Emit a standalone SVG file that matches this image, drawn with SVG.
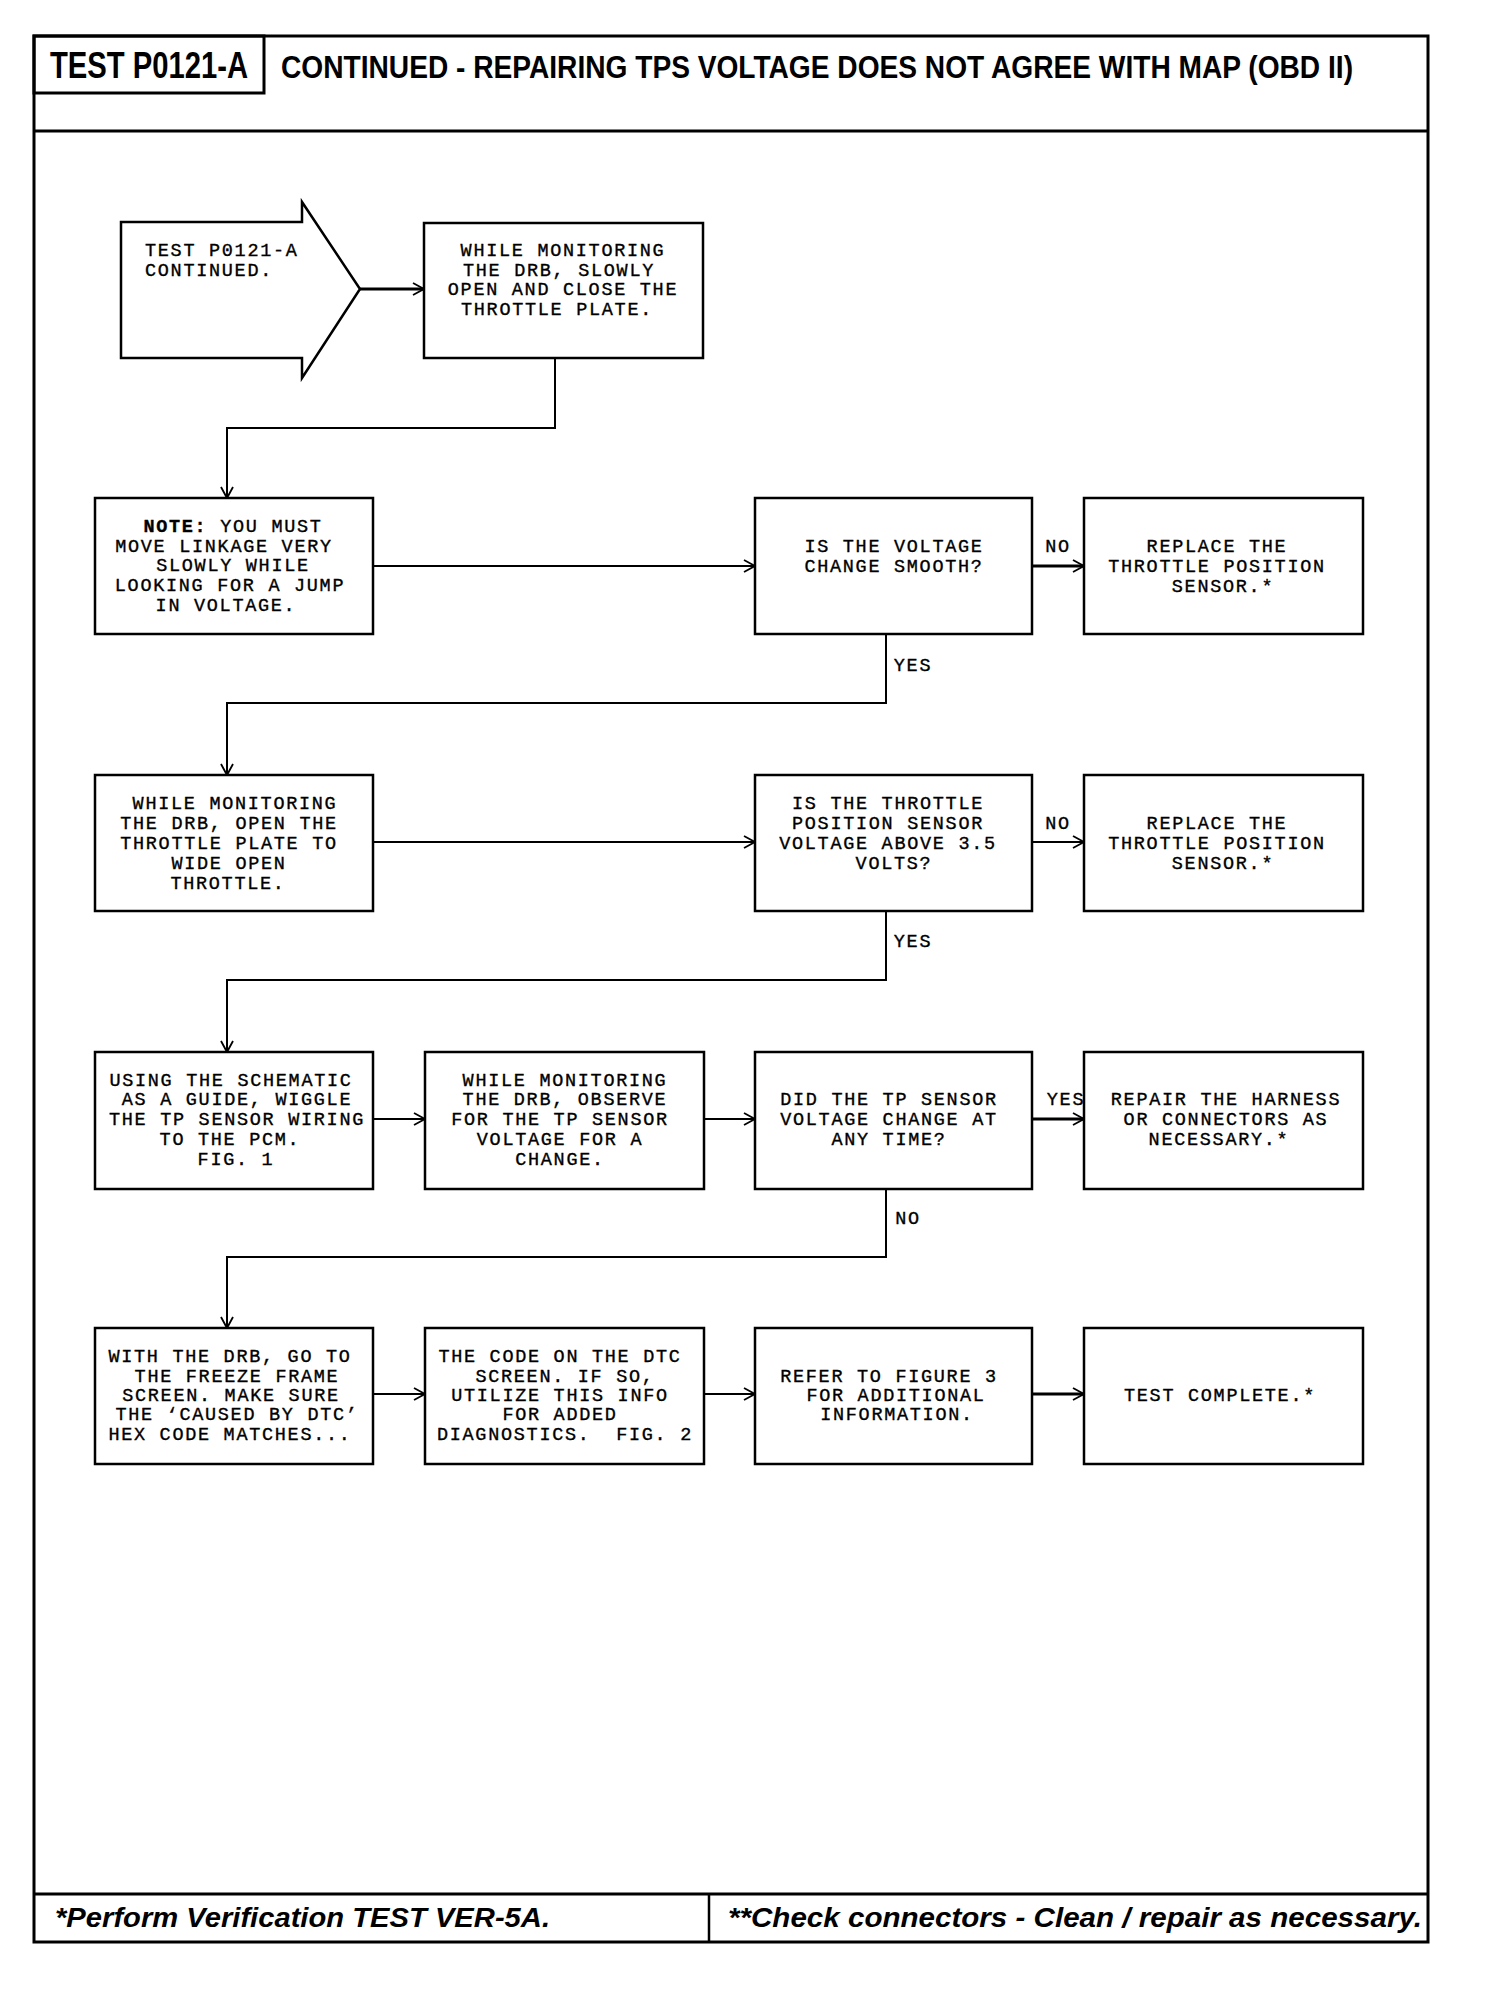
<svg xmlns="http://www.w3.org/2000/svg" width="1504" height="1996" viewBox="0 0 1504 1996">
<defs>
<style>
.frame{fill:none;stroke:#000;stroke-width:3}
.box{fill:#fff;stroke:#000;stroke-width:2.5}
.t{font-family:"Liberation Mono","Courier New",monospace;font-size:18.5px;letter-spacing:1.7px;fill:#000;stroke:#000;stroke-width:0.35;text-anchor:middle}
.ts{font-family:"Liberation Mono","Courier New",monospace;font-size:18.5px;letter-spacing:1.7px;fill:#000;stroke:#000;stroke-width:0.35}
.conn{fill:none;stroke:#000;stroke-width:2}
.thick{stroke-width:3.2}
.hdr{font-family:"Liberation Sans",Arial,sans-serif;font-weight:bold;fill:#000}
.ftr{font-family:"Liberation Sans",Arial,sans-serif;font-weight:bold;font-style:italic;fill:#000;font-size:27px}
</style>
<marker id="arr" markerUnits="userSpaceOnUse" markerWidth="14" markerHeight="16" refX="12" refY="7" orient="auto">
<path d="M1,1 L12,7 L1,13" fill="none" stroke="#000" stroke-width="1.8"/>
</marker>
</defs>
<rect width="1504" height="1996" fill="#fff"/>

<g id="frame">
<rect class="frame" x="34" y="36" width="1394" height="1906"/>
<line class="frame" x1="34" y1="131" x2="1428" y2="131"/>
<rect class="frame" x="34" y="36" width="230" height="57"/>
<line class="frame" x1="34" y1="1894" x2="1428" y2="1894"/>
<line x1="709" y1="1894" x2="709" y2="1942" stroke="#000" stroke-width="2.5"/>
<text class="hdr" x="50" y="78" font-size="36" textLength="198" lengthAdjust="spacingAndGlyphs">TEST P0121-A</text>
<text class="hdr" x="281" y="78" font-size="31" textLength="1072" lengthAdjust="spacingAndGlyphs">CONTINUED - REPAIRING TPS VOLTAGE DOES NOT AGREE WITH MAP (OBD II)</text>
<text class="ftr" x="55" y="1927" textLength="495" lengthAdjust="spacingAndGlyphs">*Perform Verification TEST VER-5A.</text>
<text class="ftr" x="728" y="1927" textLength="694" lengthAdjust="spacingAndGlyphs">**Check connectors - Clean / repair as necessary.</text>
</g>

<g id="connectors">
<line class="conn thick" x1="360" y1="289" x2="424" y2="289" marker-end="url(#arr)"/>
<path class="conn" d="M555,358 V428 H227 V498" marker-end="url(#arr)"/>
<path class="conn" d="M373,566 H755" marker-end="url(#arr)"/>
<path class="conn thick" d="M1032,566 H1084" marker-end="url(#arr)"/>
<path class="conn" d="M886,634 V703 H227 V775" marker-end="url(#arr)"/>
<path class="conn" d="M373,842 H755" marker-end="url(#arr)"/>
<path class="conn" d="M1032,842 H1084" marker-end="url(#arr)"/>
<path class="conn" d="M886,911 V980 H227 V1052" marker-end="url(#arr)"/>
<path class="conn" d="M373,1119 H425" marker-end="url(#arr)"/>
<path class="conn" d="M704,1119 H755" marker-end="url(#arr)"/>
<path class="conn thick" d="M1032,1119 H1084" marker-end="url(#arr)"/>
<path class="conn" d="M886,1189 V1257 H227 V1328" marker-end="url(#arr)"/>
<path class="conn" d="M373,1394 H425" marker-end="url(#arr)"/>
<path class="conn" d="M704,1394 H755" marker-end="url(#arr)"/>
<path class="conn thick" d="M1032,1394 H1084" marker-end="url(#arr)"/>
<text class="t" x="1058" y="552">NO</text>
<text class="t" x="913" y="671">YES</text>
<text class="t" x="1058" y="829">NO</text>
<text class="t" x="913" y="947">YES</text>
<text class="t" x="1066" y="1105">YES</text>
<text class="t" x="908" y="1224">NO</text>
</g>

<g id="start">
<polygon class="box" points="121,222 302,222 302,202 360,289 302,378 302,358 121,358"/>
<text class="ts" x="145" y="256">TEST P0121-A</text>
<text class="ts" x="145" y="276">CONTINUED.</text>
</g>

<g id="n1">
<rect class="box" x="424" y="223" width="279" height="135"/>
<text class="t" x="563" y="256">WHILE MONITORING</text>
<text class="t" x="559" y="276">THE DRB, SLOWLY</text>
<text class="t" x="563" y="295">OPEN AND CLOSE THE</text>
<text class="t" x="557" y="315">THROTTLE PLATE.</text>
</g>

<g id="n2">
<rect class="box" x="95" y="498" width="278" height="136"/>
<text class="t" x="233" y="532"><tspan font-weight="bold">NOTE:</tspan> YOU MUST</text>
<text class="t" x="224" y="552">MOVE LINKAGE VERY</text>
<text class="t" x="233" y="571">SLOWLY WHILE</text>
<text class="t" x="230" y="591">LOOKING FOR A JUMP</text>
<text class="t" x="226" y="611">IN VOLTAGE.</text>
</g>

<g id="n3">
<rect class="box" x="755" y="498" width="277" height="136"/>
<text class="t" x="894" y="552">IS THE VOLTAGE</text>
<text class="t" x="894" y="572">CHANGE SMOOTH?</text>
</g>

<g id="n4">
<rect class="box" x="1084" y="498" width="279" height="136"/>
<text class="t" x="1217" y="552">REPLACE THE</text>
<text class="t" x="1217" y="572">THROTTLE POSITION</text>
<text class="t" x="1223" y="592">SENSOR.*</text>
</g>

<g id="n5">
<rect class="box" x="95" y="775" width="278" height="136"/>
<text class="t" x="235" y="809">WHILE MONITORING</text>
<text class="t" x="229" y="829">THE DRB, OPEN THE</text>
<text class="t" x="229" y="849">THROTTLE PLATE TO</text>
<text class="t" x="229" y="869">WIDE OPEN</text>
<text class="t" x="228" y="889">THROTTLE.</text>
</g>

<g id="n6">
<rect class="box" x="755" y="775" width="277" height="136"/>
<text class="t" x="888" y="809">IS THE THROTTLE</text>
<text class="t" x="888" y="829">POSITION SENSOR</text>
<text class="t" x="888" y="849">VOLTAGE ABOVE 3.5</text>
<text class="t" x="894" y="869">VOLTS?</text>
</g>

<g id="n7">
<rect class="box" x="1084" y="775" width="279" height="136"/>
<text class="t" x="1217" y="829">REPLACE THE</text>
<text class="t" x="1217" y="849">THROTTLE POSITION</text>
<text class="t" x="1223" y="869">SENSOR.*</text>
</g>

<g id="n8">
<rect class="box" x="95" y="1052" width="278" height="137"/>
<text class="t" x="231" y="1086">USING THE SCHEMATIC</text>
<text class="t" x="237" y="1105">AS A GUIDE, WIGGLE</text>
<text class="t" x="237" y="1125">THE TP SENSOR WIRING</text>
<text class="t" x="230" y="1145">TO THE PCM.</text>
<text class="t" x="236" y="1165">FIG. 1</text>
</g>

<g id="n9">
<rect class="box" x="425" y="1052" width="279" height="137"/>
<text class="t" x="565" y="1086">WHILE MONITORING</text>
<text class="t" x="565" y="1105">THE DRB, OBSERVE</text>
<text class="t" x="560" y="1125">FOR THE TP SENSOR</text>
<text class="t" x="560" y="1145">VOLTAGE FOR A</text>
<text class="t" x="560" y="1165">CHANGE.</text>
</g>

<g id="n10">
<rect class="box" x="755" y="1052" width="277" height="137"/>
<text class="t" x="889" y="1105">DID THE TP SENSOR</text>
<text class="t" x="889" y="1125">VOLTAGE CHANGE AT</text>
<text class="t" x="889" y="1145">ANY TIME?</text>
</g>

<g id="n11">
<rect class="box" x="1084" y="1052" width="279" height="137"/>
<text class="t" x="1226" y="1105">REPAIR THE HARNESS</text>
<text class="t" x="1226" y="1125">OR CONNECTORS AS</text>
<text class="t" x="1219" y="1145">NECESSARY.*</text>
</g>

<g id="n12">
<rect class="box" x="95" y="1328" width="278" height="136"/>
<text class="t" x="230" y="1362">WITH THE DRB, GO TO</text>
<text class="t" x="237" y="1382">THE FREEZE FRAME</text>
<text class="t" x="231" y="1401">SCREEN. MAKE SURE</text>
<text class="t" x="237" y="1420">THE ‘CAUSED BY DTC’</text>
<text class="t" x="230" y="1440">HEX CODE MATCHES...</text>
</g>

<g id="n13">
<rect class="box" x="425" y="1328" width="279" height="136"/>
<text class="t" x="560" y="1362">THE CODE ON THE DTC</text>
<text class="t" x="565" y="1382">SCREEN. IF SO,</text>
<text class="t" x="560" y="1401">UTILIZE THIS INFO</text>
<text class="t" x="560" y="1420">FOR ADDED</text>
<text class="t" x="565" y="1440" xml:space="preserve">DIAGNOSTICS.  FIG. 2</text>
</g>

<g id="n14">
<rect class="box" x="755" y="1328" width="277" height="136"/>
<text class="t" x="889" y="1382">REFER TO FIGURE 3</text>
<text class="t" x="896" y="1401">FOR ADDITIONAL</text>
<text class="t" x="897" y="1420">INFORMATION.</text>
</g>

<g id="n15">
<rect class="box" x="1084" y="1328" width="279" height="136"/>
<text class="t" x="1220" y="1401">TEST COMPLETE.*</text>
</g>
</svg>
